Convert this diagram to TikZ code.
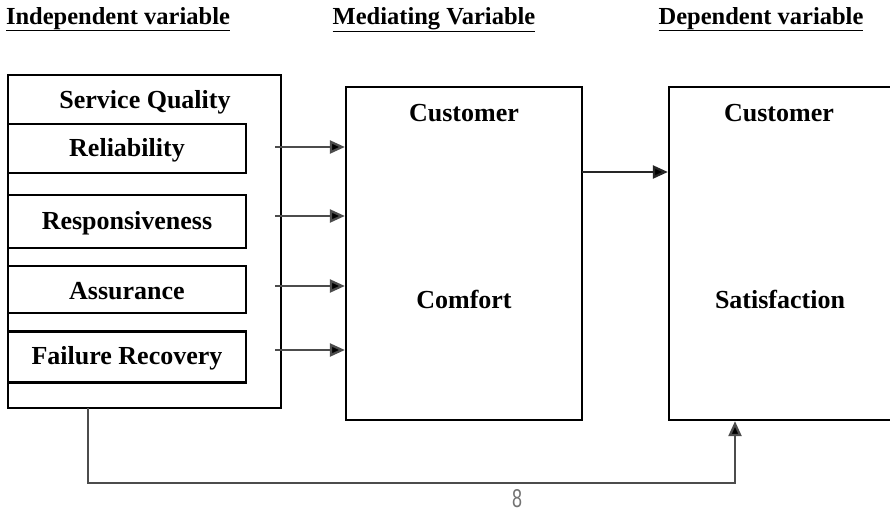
\documentclass[tikz,border=0pt]{standalone}
\usepackage{fontspec}
\setmainfont{Liberation Serif}
\newfontfamily\pagenumfont{Liberation Sans}
\usetikzlibrary{arrows.meta}
\begin{document}
\begin{tikzpicture}[x=1pt,y=-1pt,
  frame/.style={draw, line width=2.3pt, inner sep=0pt, minimum width=#1},
  label/.style={font=\fontsize{26}{30}\selectfont\bfseries, inner sep=0pt},
  heading/.style={font=\fontsize{24.5}{28}\selectfont\bfseries, inner sep=0pt, anchor=base},
  link/.style={line width=2.3pt, draw=black!70, -{Triangle[length=15pt,width=13pt,fill=black]}}
]
\useasboundingbox (0,0) rectangle (890,512);

% column headings
\node[heading] (hInd) at (118,24) {\underline{Independent variable}};
\node[heading] (hMed) at (434,24) {\underline{Mediating Variable}};
\node[heading] (hDep) at (761,24) {\underline{Dependent variable}};

% independent variable block
\node[frame=273pt, minimum height=333pt] (sq) at (144.5,241.5) {};
\node[label] (sqT) at (145,102) {Service Quality};
\node[frame=238pt, minimum height=49pt] (rel) at (127,148.5) {};
\node[label] at ([yshift=-1.5pt]rel.center) {Reliability};
\node[frame=238pt, minimum height=53pt] (res) at (127,221.5) {};
\node[label] at ([yshift=-1.5pt]res.center) {Responsiveness};
\node[frame=238pt, minimum height=47pt] (ass) at (127,289.5) {};
\node[label] at ([yshift=-1.5pt]ass.center) {Assurance};
\node[frame=238pt, minimum height=51pt] (fr) at (127,357) {};
\node[label] at ([yshift=-1.5pt]fr.center) {Failure Recovery};

% mediating variable block
\node[frame=236pt, minimum height=333pt] (cc) at (464,253.5) {};
\node[label] at (464,113) {Customer};
\node[label] at (464,299) {Comfort};

% dependent variable block
\node[frame=222pt, minimum height=333pt] (cs) at (780,253.5) {};
\node[label] at (779,113) {Customer};
\node[label] at (780,299) {Satisfaction};

% arrow start points
\coordinate (a1) at (275,147);
\coordinate (a2) at (275,216);
\coordinate (a3) at (275,286);
\coordinate (a4) at (275,350);
\coordinate (m1) at (582,172);
\coordinate (b0) at (88,408);
\coordinate (b1) at (88,483);
\coordinate (b2) at (735,483);

\draw[link] (a1) -- (a1 -| cc.west);
\draw[link] (a2) -- (a2 -| cc.west);
\draw[link] (a3) -- (a3 -| cc.west);
\draw[link] (a4) -- (a4 -| cc.west);
\draw[link, draw=black!85] (m1) -- (m1 -| cs.west);
\draw[link] (b0) -- (b1) -- (b2) -- (b2 |- cs.south);

% page number
\node[text=black!55, inner sep=0pt] (pg) at (517,499) {\resizebox{10pt}{18pt}{\pagenumfont 8}};
\end{tikzpicture}
\end{document}
